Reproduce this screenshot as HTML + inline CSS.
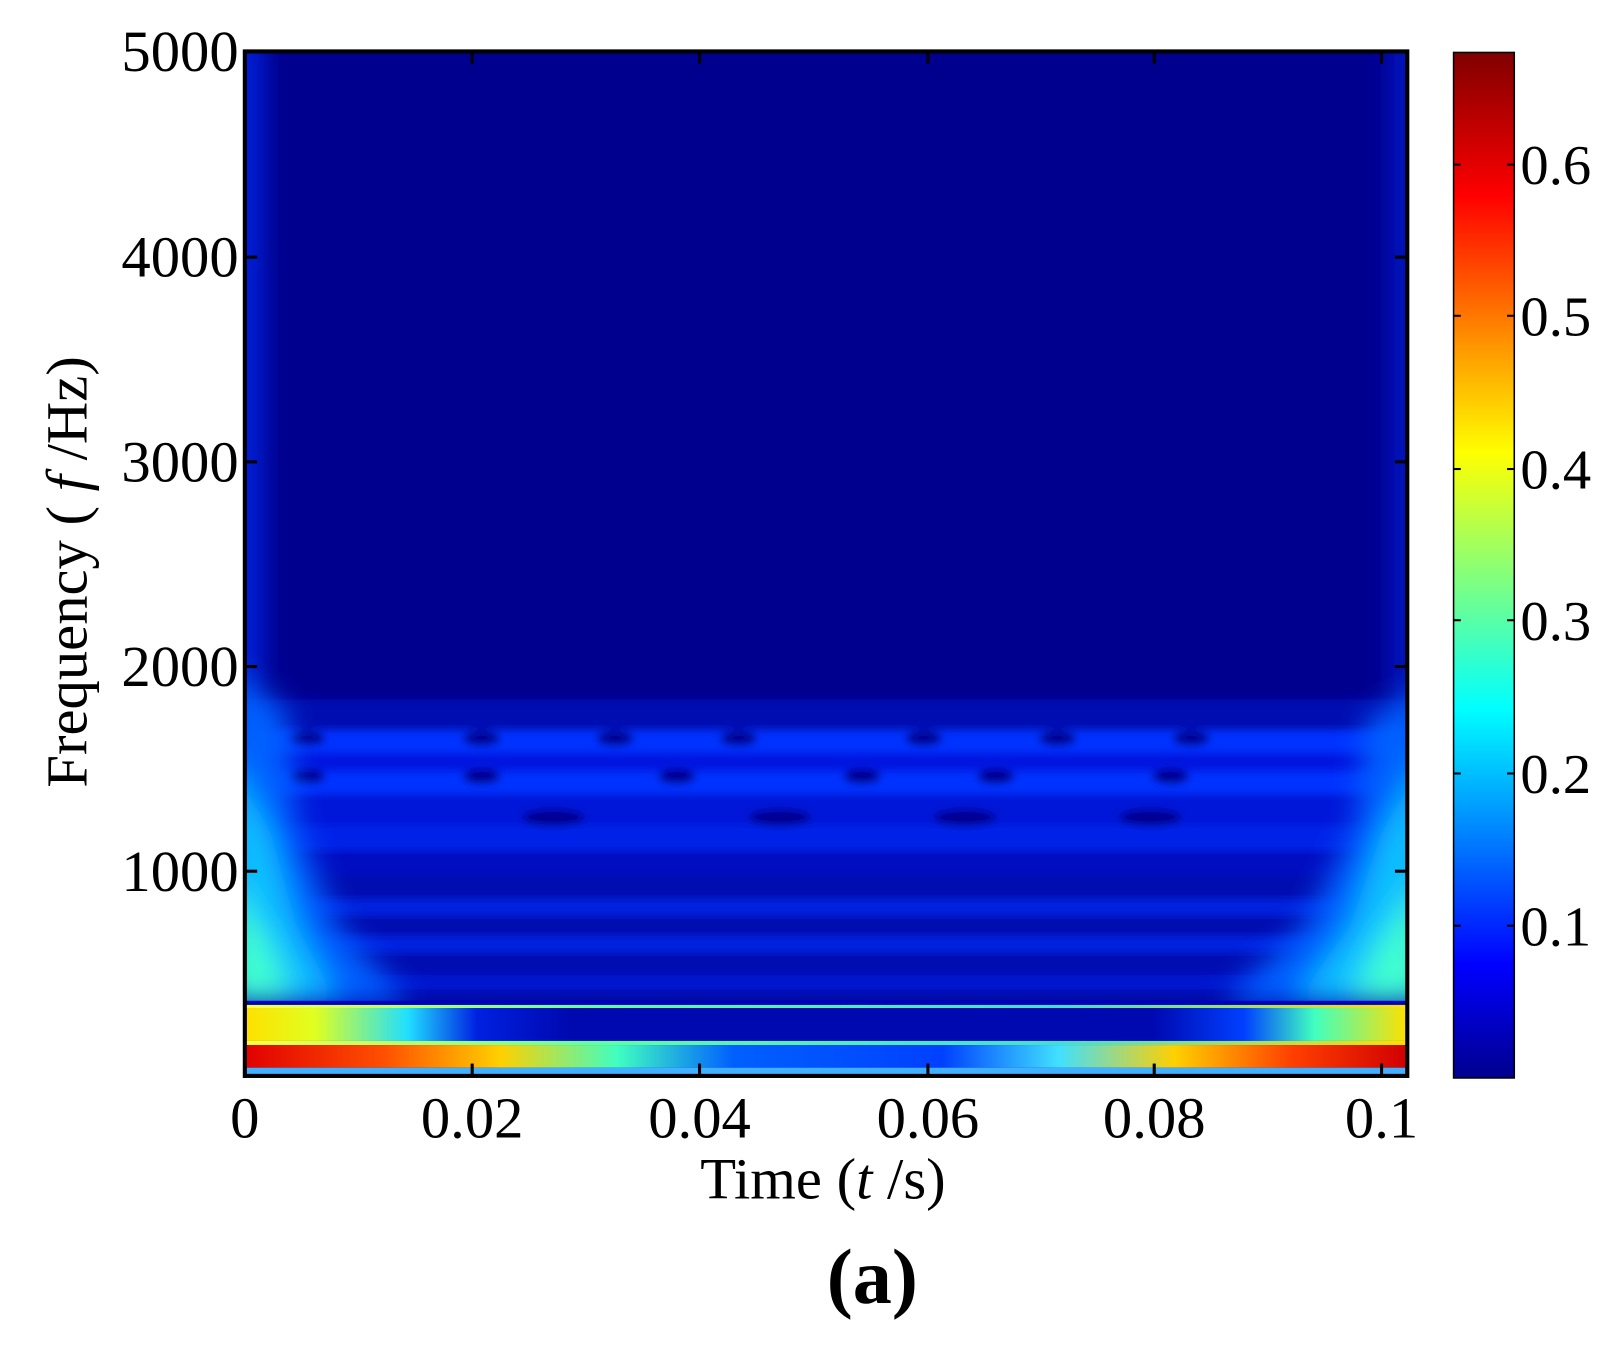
<!DOCTYPE html>
<html><head><meta charset="utf-8"><style>
html,body{margin:0;padding:0;background:#fff;}
svg{display:block;}
text{font-family:"Liberation Serif",serif;fill:#000;}
</style></head><body>
<svg width="1612" height="1367" viewBox="0 0 1567 1329" preserveAspectRatio="none" xmlns="http://www.w3.org/2000/svg">
<defs>
<linearGradient id="jet" x1="0" y1="1" x2="0" y2="0">
<stop offset="0" stop-color="#00008f"/>
<stop offset="0.11" stop-color="#0000ff"/>
<stop offset="0.36" stop-color="#00ffff"/>
<stop offset="0.61" stop-color="#ffff00"/>
<stop offset="0.86" stop-color="#ff0000"/>
<stop offset="1" stop-color="#800000"/>
</linearGradient>
<linearGradient id="yel" x1="0" x2="1">
<stop offset="0" stop-color="#ffe000"/><stop offset="0.06" stop-color="#e0ff20"/><stop offset="0.14" stop-color="#20e0ff"/><stop offset="0.2" stop-color="#0020e0"/><stop offset="0.28" stop-color="#0008b0"/>
<stop offset="0.78" stop-color="#0008b0"/><stop offset="0.86" stop-color="#0040ff"/><stop offset="0.92" stop-color="#40ffc0"/><stop offset="1" stop-color="#ffe000"/>
</linearGradient>
<linearGradient id="red" x1="0" x2="1">
<stop offset="0" stop-color="#e00000"/><stop offset="0.12" stop-color="#ff5000"/><stop offset="0.22" stop-color="#ffd000"/><stop offset="0.32" stop-color="#40ffc0"/><stop offset="0.42" stop-color="#0060ff"/><stop offset="0.6" stop-color="#0040ff"/>
<stop offset="0.7" stop-color="#40e0ff"/><stop offset="0.8" stop-color="#ffd000"/><stop offset="0.9" stop-color="#ff4000"/><stop offset="1" stop-color="#d00000"/>
</linearGradient>
<linearGradient id="line1" x1="0" x2="1">
<stop offset="0" stop-color="#ffff40"/><stop offset="0.3" stop-color="#60ffa0"/><stop offset="0.7" stop-color="#40e0d0"/><stop offset="1" stop-color="#ffe000"/>
</linearGradient>
<filter id="bl" x="-0.2" y="-0.2" width="1.4" height="1.4"><feGaussianBlur stdDeviation="14"/></filter>
<filter id="bl2" x="-0.2" y="-0.2" width="1.4" height="1.4"><feGaussianBlur stdDeviation="4"/></filter>
</defs>

<svg x="238" y="50" width="1130" height="996" viewBox="0 0 1130 996" preserveAspectRatio="none">
<rect width="1130" height="996" fill="#00008f"/>
<g filter="url(#bl2)">
<rect x="0" y="630" width="1130" height="30" fill="#0008b0"/>
<rect x="0" y="660" width="1130" height="22" fill="#0030ff"/>
<rect x="0" y="682" width="1130" height="18" fill="#0018e0"/>
<rect x="0" y="700" width="1130" height="22" fill="#0030ff"/>
<rect x="0" y="722" width="1130" height="30" fill="#0018d8"/>
<rect x="0" y="752" width="1130" height="25" fill="#0020e8"/>
<rect x="0" y="777" width="1130" height="25" fill="#000cc0"/>
<rect x="0" y="802" width="1130" height="22" fill="#0008b0"/>
<rect x="0" y="824" width="1130" height="16" fill="#0020e0"/>
<rect x="0" y="840" width="1130" height="20" fill="#0008b0"/>
<rect x="0" y="860" width="1130" height="16" fill="#0020e0"/>
<rect x="0" y="876" width="1130" height="22" fill="#0008b0"/>
<rect x="0" y="898" width="1130" height="14" fill="#0018d0"/>
<rect x="0" y="912" width="1130" height="11" fill="#0008b0"/>
<ellipse cx="60" cy="668" rx="18" ry="7" fill="#000090"/><ellipse cx="230" cy="668" rx="18" ry="7" fill="#000090"/><ellipse cx="360" cy="668" rx="18" ry="7" fill="#000090"/><ellipse cx="480" cy="668" rx="18" ry="7" fill="#000090"/><ellipse cx="660" cy="668" rx="18" ry="7" fill="#000090"/><ellipse cx="790" cy="668" rx="18" ry="7" fill="#000090"/><ellipse cx="920" cy="668" rx="18" ry="7" fill="#000090"/>
<ellipse cx="60" cy="705" rx="18" ry="7" fill="#000090"/><ellipse cx="230" cy="705" rx="18" ry="7" fill="#000090"/><ellipse cx="420" cy="705" rx="18" ry="7" fill="#000090"/><ellipse cx="600" cy="705" rx="18" ry="7" fill="#000090"/><ellipse cx="730" cy="705" rx="18" ry="7" fill="#000090"/><ellipse cx="900" cy="705" rx="18" ry="7" fill="#000090"/>
<ellipse cx="300" cy="745" rx="30" ry="8" fill="#000090"/><ellipse cx="520" cy="745" rx="30" ry="8" fill="#000090"/><ellipse cx="700" cy="745" rx="30" ry="8" fill="#000090"/><ellipse cx="880" cy="745" rx="30" ry="8" fill="#000090"/>
</g>
<g filter="url(#bl)">
<rect x="-10" y="-20" width="22" height="700" fill="#0030ff"/>
<rect x="1120" y="-20" width="20" height="700" fill="#0020e0"/>
<polygon points="-20,600 40,640 50,750 90,850 160,925 -20,925" fill="#0060ff"/>
<polygon points="-20,680 25,760 50,850 90,925 -20,925" fill="#10c0ff"/>
<polygon points="-20,800 25,870 45,925 -20,925" fill="#40ffd0"/>
<polygon points="1150,620 1090,650 1080,750 1030,850 950,925 1150,925" fill="#0060ff"/>
<polygon points="1150,680 1105,760 1075,850 1020,925 1150,925" fill="#10c0ff"/>
<polygon points="1150,800 1100,870 1075,925 1150,925" fill="#40ffd0"/>
</g>
<rect x="0" y="923" width="1130" height="4" fill="#0000c0"/>
<rect x="0" y="927" width="1130" height="3" fill="url(#line1)"/>
<rect x="0" y="930" width="1130" height="32" fill="url(#yel)"/>
<rect x="0" y="962" width="1130" height="4" fill="url(#line1)"/>
<rect x="0" y="966" width="1130" height="22" fill="url(#red)"/>
<rect x="0" y="988" width="1130" height="8" fill="#40b0ff"/>
</svg>
<rect x="238" y="50" width="1130" height="996" fill="none" stroke="#000" stroke-width="4"/>
<g stroke="#000" stroke-width="3">
<line x1="238" y1="50" x2="250" y2="50"/><line x1="238" y1="250" x2="250" y2="250"/><line x1="238" y1="449" x2="250" y2="449"/><line x1="238" y1="648" x2="250" y2="648"/><line x1="238" y1="847" x2="250" y2="847"/>
<line x1="1368" y1="250" x2="1356" y2="250"/><line x1="1368" y1="449" x2="1356" y2="449"/><line x1="1368" y1="648" x2="1356" y2="648"/><line x1="1368" y1="847" x2="1356" y2="847"/>
<line x1="459" y1="1046" x2="459" y2="1034"/><line x1="680" y1="1046" x2="680" y2="1034"/><line x1="902" y1="1046" x2="902" y2="1034"/><line x1="1122" y1="1046" x2="1122" y2="1034"/><line x1="1343" y1="1046" x2="1343" y2="1034"/>
<line x1="459" y1="50" x2="459" y2="62"/><line x1="680" y1="50" x2="680" y2="62"/><line x1="902" y1="50" x2="902" y2="62"/><line x1="1122" y1="50" x2="1122" y2="62"/><line x1="1343" y1="50" x2="1343" y2="62"/>
</g>
<g font-size="57" text-anchor="end">
<text x="232" y="69">5000</text><text x="232" y="269">4000</text><text x="232" y="468">3000</text><text x="232" y="667">2000</text><text x="232" y="866">1000</text>
</g>
<g font-size="57" text-anchor="middle">
<text x="238" y="1106">0</text><text x="459" y="1106">0.02</text><text x="680" y="1106">0.04</text><text x="902" y="1106">0.06</text><text x="1122" y="1106">0.08</text><text x="1343" y="1106">0.1</text>
</g>
<text x="800" y="1165" font-size="57" text-anchor="middle">Time (<tspan font-style="italic">t</tspan> /s)</text>
<text transform="translate(84,556) rotate(-90)" font-size="57" text-anchor="middle">Frequency ( <tspan font-style="italic">f</tspan> /Hz)</text>
<text x="848" y="1267" font-size="76" text-anchor="middle" font-weight="bold">(a)</text>

<rect x="1413" y="51" width="59" height="997" fill="url(#jet)" stroke="#000" stroke-width="1.5"/>
<g stroke="#000" stroke-width="2">
<line x1="1413" y1="900" x2="1420" y2="900"/><line x1="1472" y1="900" x2="1465" y2="900"/>
<line x1="1413" y1="752" x2="1420" y2="752"/><line x1="1472" y1="752" x2="1465" y2="752"/>
<line x1="1413" y1="603" x2="1420" y2="603"/><line x1="1472" y1="603" x2="1465" y2="603"/>
<line x1="1413" y1="456" x2="1420" y2="456"/><line x1="1472" y1="456" x2="1465" y2="456"/>
<line x1="1413" y1="307" x2="1420" y2="307"/><line x1="1472" y1="307" x2="1465" y2="307"/>
<line x1="1413" y1="160" x2="1420" y2="160"/><line x1="1472" y1="160" x2="1465" y2="160"/>
</g>
<g font-size="55">
<text x="1478" y="919">0.1</text><text x="1478" y="771">0.2</text><text x="1478" y="622">0.3</text><text x="1478" y="475">0.4</text><text x="1478" y="326">0.5</text><text x="1478" y="179">0.6</text>
</g>
</svg>
</body></html>
